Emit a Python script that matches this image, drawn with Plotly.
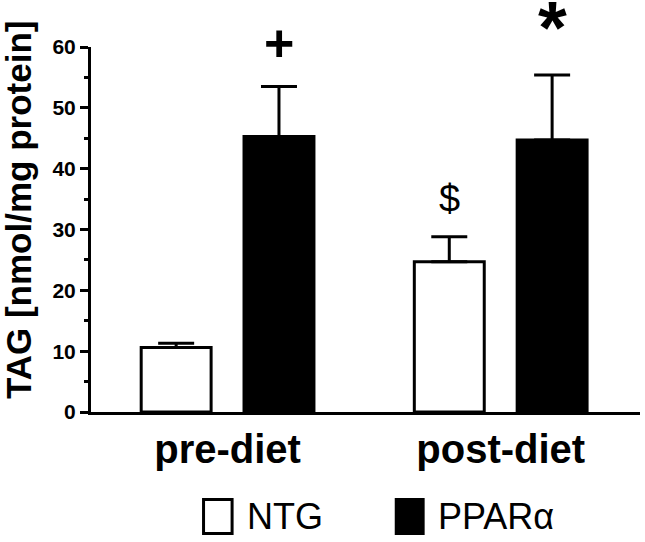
import plotly.graph_objects as go

categories = ["pre-diet", "post-diet"]
ntg_mean = [10.6, 24.7]
ntg_sem = [0.7, 4.1]
ppar_mean = [45.3, 44.7]
ppar_sem = [8.2, 10.7]
series_names = ["NTG", "PPARα"]
y_ticks = [0, 10, 20, 30, 40, 50, 60]

FONT = "Liberation Sans, Arial, sans-serif"

fig = go.Figure()
fig.add_trace(go.Bar(
    x=categories, y=ntg_mean, name=series_names[0],
    marker=dict(color="white", line=dict(color="black", width=3)),
    error_y=dict(type="data", symmetric=False, array=ntg_sem, arrayminus=[0, 0],
                 color="black", thickness=3, width=18),
    showlegend=False,
))
fig.add_trace(go.Bar(
    x=categories, y=ppar_mean, name=series_names[1],
    marker=dict(color="black", line=dict(color="black", width=3)),
    error_y=dict(type="data", symmetric=False, array=ppar_sem, arrayminus=[0, 0],
                 color="black", thickness=3, width=18),
    showlegend=False,
))

# significance markers
half = 51.5
fig.add_annotation(x=categories[0], y=ppar_mean[0] + ppar_sem[0], xshift=half, yshift=44,
                   text="<b>+</b>", showarrow=False, font=dict(size=52, family=FONT, color="black"))
fig.add_annotation(x=categories[1], y=ntg_mean[1] + ntg_sem[1], xshift=-half, yshift=38,
                   text="$", showarrow=False, font=dict(size=38, family=FONT, color="black"))
fig.add_annotation(x=categories[1], y=ppar_mean[1] + ppar_sem[1], xshift=half, yshift=47,
                   text="<b>*</b>", showarrow=False, font=dict(size=74, family=FONT, color="black"))

# y-axis title as rotated annotation
fig.add_annotation(xref="paper", yref="paper", x=-0.132, y=0.552, xanchor="center", yanchor="middle",
                   textangle=-90, text="<b>TAG [nmol/mg protein]</b>", showarrow=False,
                   font=dict(size=35, family=FONT, color="black"))

# legend drawn manually
fig.add_shape(type="rect", xref="paper", yref="paper", x0=0.205, x1=0.257, y0=-0.240, y1=-0.333,
              line=dict(color="black", width=3), fillcolor="white")
fig.add_annotation(xref="paper", yref="paper", x=0.280, y=-0.287, xanchor="left", yanchor="middle",
                   text=series_names[0], showarrow=False, font=dict(size=36, family=FONT, color="black"))
fig.add_shape(type="rect", xref="paper", yref="paper", x0=0.556, x1=0.605, y0=-0.240, y1=-0.333,
              line=dict(color="black", width=3), fillcolor="black")
fig.add_annotation(xref="paper", yref="paper", x=0.628, y=-0.287, xanchor="left", yanchor="middle",
                   text=series_names[1], showarrow=False, font=dict(size=36, family=FONT, color="black"))

fig.update_layout(
    width=645, height=542,
    margin=dict(l=91, r=5, t=47, b=130),
    paper_bgcolor="white", plot_bgcolor="white",
    barmode="group", bargap=0.247, bargroupgap=0.32,
    font=dict(family=FONT, color="black"),
    xaxis=dict(
        range=[-0.5, 1.51], showline=True, linecolor="black", linewidth=3,
        ticks="", tickfont=dict(size=40, family=FONT, color="black"),
        tickvals=categories, ticktext=["<b>%s</b>" % c for c in categories],
        showgrid=False, zeroline=False,
    ),
    yaxis=dict(
        range=[0, 60], tickvals=y_ticks, showline=True, linecolor="black", linewidth=3,
        ticks="outside", ticklen=8, tickwidth=3, tickcolor="black",
        tickfont=dict(size=21, family=FONT, color="black"),
        ticktext=["<b>%d</b>" % v for v in y_ticks],
        minor=dict(dtick=5, ticks="outside", ticklen=4, tickwidth=3, tickcolor="black", showgrid=False),
        showgrid=False, zeroline=False,
    ),
)

fig.write_html("out.html", config={"displayModeBar": False},
               post_script="document.body.style.margin='0';")
